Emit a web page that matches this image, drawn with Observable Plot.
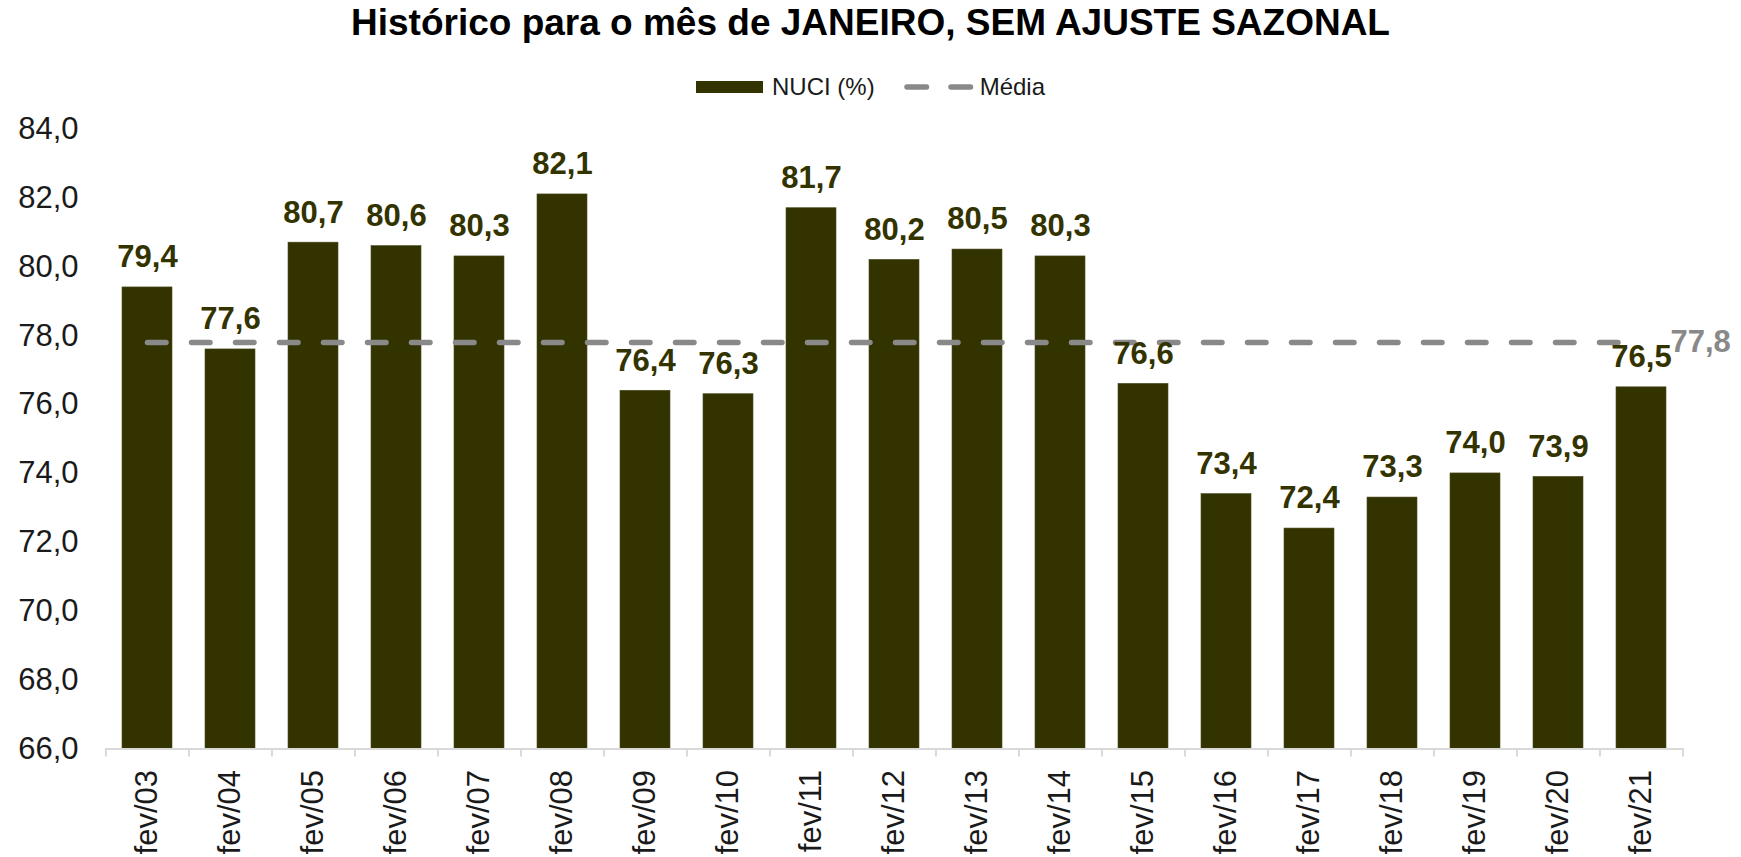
<!DOCTYPE html>
<html>
<head>
<meta charset="utf-8">
<script src="https://cdn.jsdelivr.net/npm/d3@7"></script>
<script src="https://cdn.jsdelivr.net/npm/@observablehq/plot@0.6"></script>
<style>
  html, body { margin: 0; padding: 0; background: #fff; overflow: hidden; }
  body { width: 1741px; height: 857px; position: relative; font-family: "Liberation Sans", Arial, sans-serif; }
  #title { height: 48px; line-height: 45px; text-align: center; font-size: 37px; font-weight: bold; color: #000; white-space: nowrap; overflow: visible; }
  #legend { position: absolute; top: 75px; left: 0; width: 1741px; height: 24px; display: flex; justify-content: center; align-items: center; z-index: 2; font-size: 24px; color: #1a1a1a; }
  #legend span { line-height: 24px; }
  #chart svg { display: block; }
</style>
</head>
<body>
<div id="title">Histórico para o mês de JANEIRO, SEM AJUSTE SAZONAL</div>
<div id="legend"></div>
<div id="chart"></div>
<script>
// ---- data ----
const categories = ["fev/03","fev/04","fev/05","fev/06","fev/07","fev/08","fev/09","fev/10","fev/11","fev/12","fev/13","fev/14","fev/15","fev/16","fev/17","fev/18","fev/19","fev/20","fev/21"];
const nuci = [79.4, 77.6, 80.7, 80.6, 80.3, 82.1, 76.4, 76.3, 81.7, 80.2, 80.5, 80.3, 76.6, 73.4, 72.4, 73.3, 74.0, 73.9, 76.5];
const media = 77.8;
const yTicks = [66, 68, 70, 72, 74, 76, 78, 80, 82, 84];
const seriesNames = ["NUCI (%)", "Média"];

// ---- layout ----
const W = 1741, H = 809;
const mL = 105, mR = 57, mT = 80.5, mB = 108.5;
const step = (W - mL - mR) / categories.length;
const barColor = "#333300";
const meanColor = "#898989";
const fmt = v => v.toFixed(1).replace(".", ",");

const data = categories.map((c, i) => ({cat: c, value: nuci[i]}));
const meanData = categories.map(c => ({cat: c, media}));

const chart = Plot.plot({
  width: W, height: H,
  marginLeft: mL, marginRight: mR, marginTop: mT, marginBottom: mB,
  style: {fontFamily: "Liberation Sans, Arial, sans-serif", fontSize: "31px", color: "#1a1a1a", background: "white", overflow: "visible"},
  x: {type: "band", domain: categories, paddingInner: 0.394, paddingOuter: 0.197, label: null, tickRotate: -90, tickSize: 0, tickPadding: 21},
  y: {domain: [66, 84], ticks: yTicks, tickFormat: fmt, tickSize: 0, tickPadding: 27, label: null},
  marks: [
    Plot.barY(data, {x: "cat", y1: () => yTicks[0], y2: "value", fill: barColor, stroke: "#4a4a20", strokeWidth: 0.6}),
    Plot.ruleY([yTicks[0]], {stroke: "#d9d9d9", strokeWidth: 2}),
    Plot.ruleX(categories, {x: d => d, y1: () => yTicks[0], y2: () => yTicks[0], dx: -step / 2, insetBottom: -8, stroke: "#d9d9d9", strokeWidth: 2}),
    Plot.ruleX([categories[categories.length - 1]], {x: d => d, y1: () => yTicks[0], y2: () => yTicks[0], dx: step / 2, insetBottom: -8, stroke: "#d9d9d9", strokeWidth: 2}),
    Plot.lineY(meanData, {x: "cat", y: "media", stroke: meanColor, strokeWidth: 5.5, strokeDasharray: "18.5,25.5", strokeLinecap: "round"}),
    Plot.text(data, {x: "cat", y: "value", text: d => fmt(d.value), dy: -30, fill: barColor, fontWeight: "bold", fontSize: 31}),
    Plot.text([media], {x: () => categories[categories.length - 1], y: d => d, text: d => fmt(d), dx: 29, textAnchor: "start", fill: meanColor, fontWeight: "bold", fontSize: 31})
  ]
});
document.getElementById("chart").appendChild(chart);

// ---- legend ----
const legend = document.getElementById("legend");
legend.innerHTML =
  `<svg width="67" height="12" style="display:block"><rect width="67" height="12" fill="${barColor}"/></svg>` +
  `<span style="margin-left:9px">${seriesNames[0]}</span>` +
  `<svg width="70" height="12" style="display:block;margin-left:29px"><line x1="3" x2="67" y1="6" y2="6" stroke="${meanColor}" stroke-width="5.5" stroke-dasharray="19.5 24.5" stroke-linecap="round"/></svg>` +
  `<span style="margin-left:6px">${seriesNames[1]}</span>`;
</script>
</body>
</html>
